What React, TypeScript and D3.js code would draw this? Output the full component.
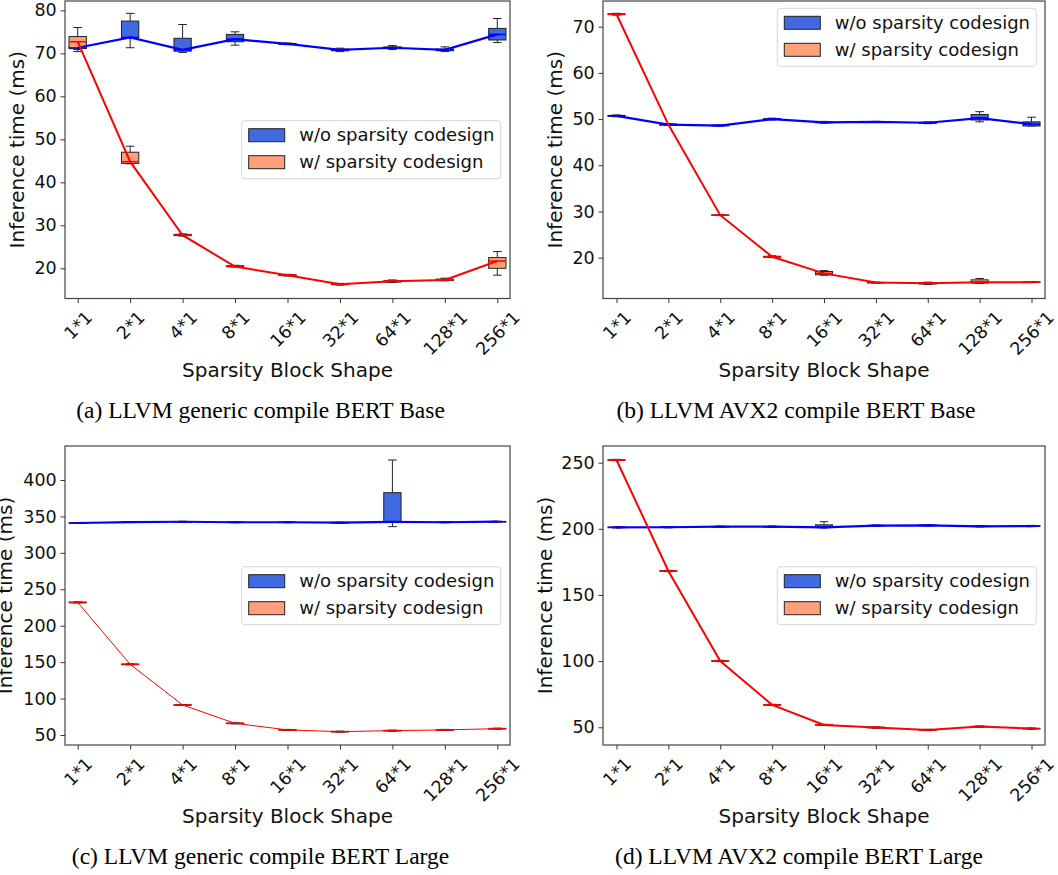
import { useEffect, useRef } from 'react';
import * as d3 from 'd3';

const shapes = ['1*1', '2*1', '4*1', '8*1', '16*1', '32*1', '64*1', '128*1', '256*1'];

// each entry: [whisker low, q1, median, q3, whisker high]
const genericBaseDense = [
  [70.9, 71.1, 71.3, 71.6, 71.8],
  [71.3, 73.6, 73.7, 77.5, 79.3],
  [70.2, 70.5, 70.8, 73.5, 76.7],
  [71.9, 72.7, 73.3, 74.4, 75.0],
  [72.0, 72.1, 72.2, 72.3, 72.4],
  [70.4, 70.6, 70.8, 71.0, 71.2],
  [70.9, 71.1, 71.3, 71.5, 71.8],
  [70.4, 70.6, 70.8, 71.0, 71.5],
  [72.5, 73.1, 74.4, 75.8, 78.1],
];
const genericBaseSparse = [
  [70.4, 71.3, 72.7, 73.9, 76.0],
  [44.3, 44.4, 44.8, 47.0, 48.4],
  [27.5, 27.6, 27.7, 27.9, 28.0],
  [20.3, 20.4, 20.4, 20.6, 20.7],
  [18.2, 18.3, 18.4, 18.5, 18.6],
  [16.1, 16.2, 16.3, 16.4, 16.5],
  [16.7, 16.8, 17.0, 17.1, 17.3],
  [17.1, 17.2, 17.3, 17.5, 17.7],
  [18.4, 20.0, 21.7, 22.5, 23.9],
];
const avx2BaseDense = [
  [50.5, 50.6, 50.7, 50.8, 50.9],
  [48.6, 48.7, 48.8, 48.9, 49.0],
  [48.5, 48.55, 48.6, 48.7, 48.75],
  [49.8, 49.9, 50.0, 50.1, 50.2],
  [49.1, 49.2, 49.3, 49.4, 49.5],
  [49.3, 49.35, 49.4, 49.45, 49.5],
  [49.0, 49.1, 49.2, 49.3, 49.4],
  [49.4, 49.8, 50.2, 51.0, 51.6],
  [48.5, 48.5, 48.9, 49.4, 50.4],
];
const avx2BaseSparse = [
  [72.5, 72.6, 72.7, 72.8, 72.9],
  [48.7, 48.75, 48.8, 48.9, 49.0],
  [29.1, 29.15, 29.2, 29.25, 29.3],
  [20.0, 20.1, 20.2, 20.3, 20.4],
  [16.2, 16.3, 16.6, 17.0, 17.2],
  [14.5, 14.55, 14.6, 14.65, 14.7],
  [14.2, 14.3, 14.45, 14.6, 14.7],
  [14.4, 14.5, 14.7, 15.2, 15.5],
  [14.6, 14.65, 14.7, 14.75, 14.8],
];
const genericLargeDense = [
  [340.3, 340.7, 341.0, 341.3, 341.7],
  [341.6, 342.0, 342.3, 342.6, 343.0],
  [342.0, 342.4, 342.7, 343.0, 343.4],
  [341.3, 341.7, 342.0, 342.3, 342.7],
  [341.3, 341.7, 342.0, 342.3, 342.7],
  [340.8, 341.2, 341.5, 341.8, 342.2],
  [336.0, 342.5, 342.5, 382.6, 427.4],
  [341.3, 341.7, 342.0, 342.3, 342.7],
  [342.1, 342.5, 342.8, 343.1, 343.5],
];
const genericLargeSparse = [
  [231.3, 231.7, 232.0, 232.3, 232.7],
  [146.3, 146.7, 147.0, 147.3, 147.7],
  [90.5, 90.9, 91.2, 91.5, 91.9],
  [65.3, 65.7, 66.0, 66.3, 66.7],
  [56.3, 56.7, 57.0, 57.3, 57.7],
  [53.9, 54.3, 54.6, 54.9, 55.3],
  [55.3, 55.7, 56.0, 56.3, 56.7],
  [56.3, 56.7, 57.0, 57.3, 57.7],
  [58.0, 58.4, 58.7, 59.0, 59.4],
];
const avx2LargeDense = [
  [200.6, 200.9, 201.1, 201.3, 201.6],
  [200.7, 201.0, 201.2, 201.4, 201.7],
  [201.1, 201.4, 201.6, 201.8, 202.1],
  [201.1, 201.4, 201.6, 201.8, 202.1],
  [200.6, 201.0, 201.1, 203.0, 205.4],
  [201.9, 202.2, 202.4, 202.6, 202.9],
  [202.1, 202.4, 202.6, 202.8, 203.1],
  [201.4, 201.7, 201.9, 202.1, 202.4],
  [201.6, 201.9, 202.1, 202.3, 202.6],
];
const avx2LargeSparse = [
  [251.5, 251.8, 252.0, 252.2, 252.5],
  [167.6, 167.9, 168.1, 168.3, 168.6],
  [99.6, 99.9, 100.1, 100.3, 100.6],
  [66.4, 66.7, 66.9, 67.1, 67.4],
  [51.3, 51.6, 51.8, 52.0, 52.3],
  [49.3, 49.6, 49.8, 50.0, 50.3],
  [47.5, 47.8, 48.0, 48.2, 48.5],
  [50.0, 50.3, 50.5, 50.7, 51.0],
  [48.5, 48.8, 49.0, 49.2, 49.5],
];

const ticksBase = [20, 30, 40, 50, 60, 70, 80];
const ticksBaseAvx = [20, 30, 40, 50, 60, 70];
const ticksGenericLarge = [50, 100, 150, 200, 250, 300, 350, 400];
const ticksAvxLarge = [50, 100, 150, 200, 250];

const legendLabels = ['w/o sparsity codesign', 'w/ sparsity codesign'];
const xTitle = 'Sparsity Block Shape';
const yTitle = 'Inference time (ms)';

const panels = [
  {
    dense: genericBaseDense, sparse: genericBaseSparse, ticks: ticksBase,
    yDomain: [12.98, 82.17], left: 65, right: 510, top: 1, bottom: 298.5, pad: 0.242,
    yLabelX: 24, legend: [241.7, 120.7], redWidth: 2,
    caption: '(a) LLVM generic compile BERT Base', capX: 260.5, capY: 418, titleY: 377,
  },
  {
    dense: avx2BaseDense, sparse: avx2BaseSparse, ticks: ticksBaseAvx,
    yDomain: [11.16, 75.56], left: 603, right: 1045, top: 1, bottom: 298.5, pad: 0.26,
    yLabelX: 562, legend: [777.3, 8.3], redWidth: 2,
    caption: '(b) LLVM AVX2 compile BERT Base', capX: 796, capY: 418, titleY: 377,
  },
  {
    dense: genericLargeDense, sparse: genericLargeSparse, ticks: ticksGenericLarge,
    yDomain: [36.27, 446.67], left: 65, right: 510, top: 446, bottom: 745, pad: 0.242,
    yLabelX: 12, legend: [241.7, 566.7], redWidth: 1,
    caption: '(c) LLVM generic compile BERT Large', capX: 260.5, capY: 864, titleY: 823,
  },
  {
    dense: avx2LargeDense, sparse: avx2LargeSparse, ticks: ticksAvxLarge,
    yDomain: [36.6, 262.6], left: 603, right: 1045, top: 446, bottom: 745, pad: 0.26,
    yLabelX: 552, legend: [777.3, 566.7], redWidth: 2,
    caption: '(d) LLVM AVX2 compile BERT Large', capX: 799, capY: 864, titleY: 823,
  },
];

const SANS = '"DejaVu Sans", sans-serif';
const SERIF = '"Liberation Serif", "Times New Roman", serif';
const TICK_FS = 17.5;

export default function App() {
  const svgRef = useRef(null);

  useEffect(() => {
    const svg = d3.select(svgRef.current);
    svg.selectAll('*').remove();

    panels.forEach(p => {
      const x = d3.scalePoint().domain(shapes).range([p.left, p.right]).padding(p.pad);
      const y = d3.scaleLinear().domain(p.yDomain).range([p.bottom, p.top]);
      const g = svg.append('g');
      const bw = x.step() * 0.33;

      const series = [
        { data: p.dense, fill: '#4169e1', line: '#0000ff', width: 2.2 },
        { data: p.sparse, fill: '#ffa07a', line: '#ff0000', width: p.redWidth },
      ];

      // boxplots
      series.forEach(s => {
        const bg = g.append('g');
        s.data.forEach((d, i) => {
          const cx = x(shapes[i]);
          const [lo, q1, med, q3, hi] = d;
          bg.append('line').attr('x1', cx).attr('x2', cx).attr('y1', y(q3)).attr('y2', y(hi))
            .attr('stroke', '#222').attr('stroke-width', 1);
          bg.append('line').attr('x1', cx).attr('x2', cx).attr('y1', y(q1)).attr('y2', y(lo))
            .attr('stroke', '#222').attr('stroke-width', 1);
          [lo, hi].forEach(v => {
            bg.append('line').attr('x1', cx - bw / 4).attr('x2', cx + bw / 4)
              .attr('y1', y(v)).attr('y2', y(v)).attr('stroke', '#222').attr('stroke-width', 1);
          });
          bg.append('rect')
            .attr('x', cx - bw / 2).attr('width', bw)
            .attr('y', y(q3)).attr('height', Math.max(0.5, y(q1) - y(q3)))
            .attr('fill', s.fill).attr('stroke', '#222').attr('stroke-width', 1);
          bg.append('line').attr('x1', cx - bw / 2).attr('x2', cx + bw / 2)
            .attr('y1', y(med)).attr('y2', y(med)).attr('stroke', s.line).attr('stroke-width', 1.5);
        });
      });

      // lines through the medians
      series.forEach(s => {
        const line = d3.line<number[]>()
          .x((d, i) => x(shapes[i]))
          .y(d => y(d[2]));
        g.append('path').datum(s.data)
          .attr('fill', 'none')
          .attr('stroke', s.line)
          .attr('stroke-width', s.width)
          .attr('d', line);
      });

      // frame
      g.append('rect')
        .attr('x', p.left).attr('y', p.top)
        .attr('width', p.right - p.left).attr('height', p.bottom - p.top)
        .attr('fill', 'none').attr('stroke', '#444').attr('stroke-width', 1.2);

      // x axis
      const xAxis = g.append('g')
        .attr('transform', `translate(0,${p.bottom})`)
        .call(d3.axisBottom(x).tickSize(4.5).tickSizeOuter(0));
      xAxis.select('.domain').remove();
      xAxis.selectAll('line').attr('stroke', '#333');
      xAxis.selectAll('text')
        .attr('font-family', SANS).attr('font-size', TICK_FS).attr('fill', '#111')
        .attr('y', 0).attr('dy', '0.35em').attr('text-anchor', 'middle')
        .attr('transform', function () {
          const w = (this as SVGTextElement).getComputedTextLength();
          const h = TICK_FS * 1.164;
          const H = (w + h) * Math.SQRT1_2;
          return `translate(0,${8.5 + H / 2}) rotate(-45)`;
        });

      // y axis
      const yAxis = g.append('g')
        .attr('transform', `translate(${p.left},0)`)
        .call(d3.axisLeft(y).tickValues(p.ticks).tickSize(4.5).tickPadding(3.8).tickFormat(d3.format('d')));
      yAxis.select('.domain').remove();
      yAxis.selectAll('line').attr('stroke', '#333');
      yAxis.selectAll('text')
        .attr('font-family', SANS).attr('font-size', TICK_FS).attr('fill', '#111');

      // axis titles
      g.append('text')
        .attr('x', (p.left + p.right) / 2).attr('y', p.titleY)
        .attr('text-anchor', 'middle')
        .attr('font-family', SANS).attr('font-size', 20).attr('fill', '#111')
        .text(xTitle);

      g.append('text')
        .attr('transform', `translate(${p.yLabelX},${(p.top + p.bottom) / 2}) rotate(-90)`)
        .attr('text-anchor', 'middle')
        .attr('font-family', SANS).attr('font-size', 20).attr('fill', '#111')
        .text(yTitle);

      // legend
      const lg = g.append('g').attr('transform', `translate(${p.legend[0]},${p.legend[1]})`);
      lg.append('rect')
        .attr('width', 259).attr('height', 58).attr('rx', 3)
        .attr('fill', '#fff').attr('fill-opacity', 0.8)
        .attr('stroke', '#d6d6d6').attr('stroke-width', 1);
      series.forEach((s, i) => {
        lg.append('rect')
          .attr('x', 7).attr('y', 8 + i * 27)
          .attr('width', 36).attr('height', 13)
          .attr('fill', s.fill).attr('stroke', '#222').attr('stroke-width', 1);
        lg.append('text')
          .attr('x', 57.5).attr('y', 14.5 + i * 27).attr('dy', '0.35em')
          .attr('font-family', SANS).attr('font-size', 18).attr('fill', '#111')
          .text(legendLabels[i]);
      });

      // caption
      g.append('text')
        .attr('x', p.capX).attr('y', p.capY)
        .attr('text-anchor', 'middle')
        .attr('font-family', SERIF).attr('font-size', 23.5).attr('fill', '#000')
        .text(p.caption);
    });
  }, []);

  return (
    <svg
      ref={svgRef}
      width={1058}
      height={875}
      style={{ position: 'absolute', left: 0, top: 0, background: '#fff' }}
    />
  );
}
